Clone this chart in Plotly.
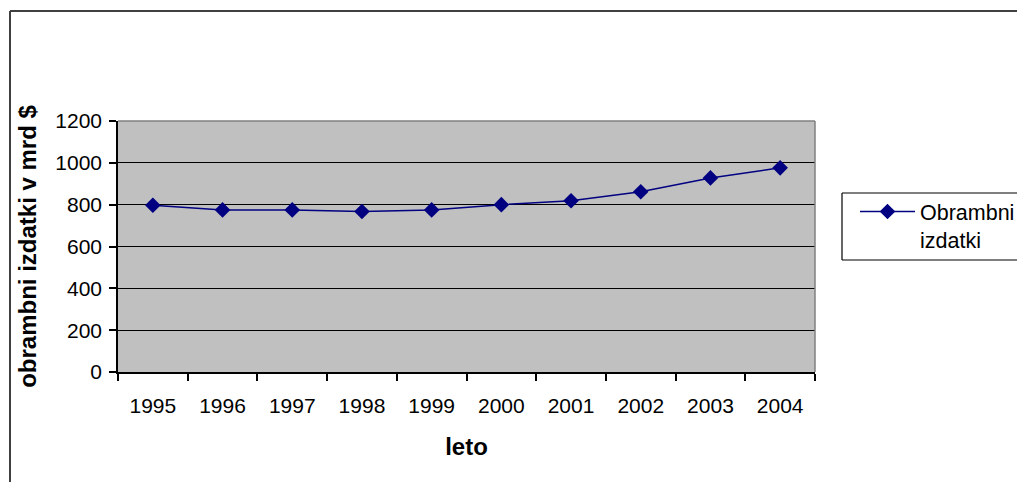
import plotly.graph_objects as go

years = ["1995", "1996", "1997", "1998", "1999", "2000", "2001", "2002", "2003", "2004"]
spending = [797, 775, 775, 767, 775, 800, 819, 862, 928, 976]
y_tick_values = [0, 200, 400, 600, 800, 1000, 1200]
series_name = "Obrambni<br>izdatki"
x_title = "leto"
y_title = "obrambni izdatki v mrd $"

FONT = "Liberation Sans, Arial, sans-serif"

L, R, T, B = 118, 815, 121, 372

fig = go.Figure()
fig.add_trace(go.Scatter(
    x=years, y=spending, name=series_name, mode="lines+markers",
    line=dict(color="#000080", width=1.5),
    marker=dict(symbol="diamond", size=12, color="#000080"),
    showlegend=True,
))

px_w, px_h = R - L, B - T


def px_x(p):
    return (p - L) / px_w


def px_y(p):
    return (B - p) / px_h


fig.update_layout(
    width=1017, height=482, autosize=False,
    margin=dict(l=L, r=1017 - R, t=T, b=482 - B, autoexpand=False),
    paper_bgcolor="white", plot_bgcolor="#C0C0C0",
    font=dict(family=FONT, size=21, color="black"),
    showlegend=True,
    legend=dict(
        x=px_x(855), y=px_y(191), xanchor="left", yanchor="top",
        bgcolor="rgba(0,0,0,0)", borderwidth=0, itemwidth=55,
        font=dict(family=FONT, size=21.5, color="black"),
        valign="top",
    ),
    xaxis=dict(
        type="category", range=[-0.5, len(years) - 0.5],
        tickson="boundaries", ticks="outside", ticklen=7,
        tickcolor="black", tickwidth=1.5, showline=True, linecolor="black", linewidth=1.5,
        showgrid=False, zeroline=False, ticklabelstandoff=14,
        title=dict(text="<b>" + x_title + "</b>", font=dict(size=24, family=FONT), standoff=22),
    ),
    yaxis=dict(
        range=[0, 1200], tickvals=y_tick_values, ticks="outside", ticklen=7,
        tickcolor="black", tickwidth=1.5, showline=True, linecolor="black", linewidth=1.5,
        showgrid=True, gridcolor="black", gridwidth=1, zeroline=False,
        ticklabelstandoff=3,
        title=dict(text="<b>" + y_title + "</b>", font=dict(size=24, family=FONT), standoff=12),
    ),
)

# plot-area border (gray top/right)
fig.add_shape(type="line", xref="paper", yref="paper", x0=0, x1=1, y0=1, y1=1,
              line=dict(color="#808080", width=1.5), layer="above")
fig.add_shape(type="line", xref="paper", yref="paper", x0=1, x1=1, y0=0, y1=1,
              line=dict(color="#808080", width=1.5), layer="above")
# legend box (right side runs off the image)
lx0, lx1, ly0, ly1 = px_x(842), px_x(1030), px_y(260), px_y(193)
for seg in [(lx0, ly1, lx1, ly1), (lx0, ly0, lx1, ly0), (lx0, ly0, lx0, ly1)]:
    fig.add_shape(type="line", xref="paper", yref="paper",
                  x0=seg[0], y0=seg[1], x1=seg[2], y1=seg[3],
                  line=dict(color="black", width=1.2))
# outer chart border (only top and left visible)
ox0, ox1, oy0, oy1 = px_x(10), px_x(1030), px_y(500), px_y(11)
for seg in [(ox0, oy1, ox1, oy1), (ox0, oy0, ox0, oy1)]:
    fig.add_shape(type="line", xref="paper", yref="paper",
                  x0=seg[0], y0=seg[1], x1=seg[2], y1=seg[3],
                  line=dict(color="#404040", width=2))

fig.write_html(
    "out.html",
    config={"displayModeBar": False},
    post_script="document.body.style.margin='0';document.body.style.overflow='hidden';",
)
